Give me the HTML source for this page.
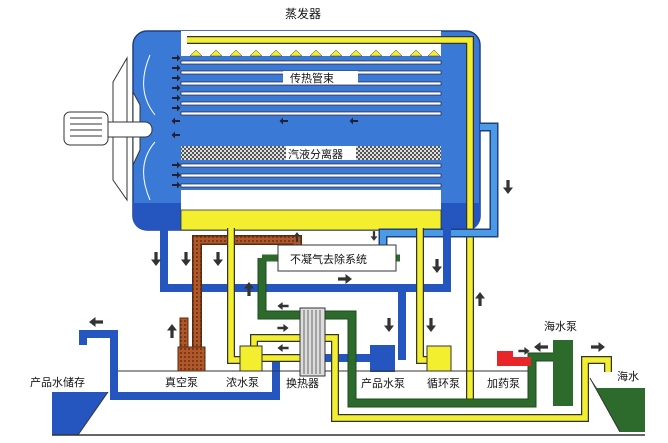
<!DOCTYPE html>
<html><head><meta charset="utf-8"><style>
html,body{margin:0;padding:0;background:#fff;}
svg{display:block;}
text{font-family:"Liberation Sans","Noto Sans CJK SC",sans-serif;font-size:11px;fill:#111;}
</style></head><body>
<svg width="668" height="443" viewBox="0 0 668 443" xmlns="http://www.w3.org/2000/svg">
<defs>
<pattern id="chk" width="4" height="4" patternUnits="userSpaceOnUse"><rect width="4" height="4" fill="#ddd"/><rect width="2" height="2" fill="#555"/><rect x="2" y="2" width="2" height="2" fill="#555"/></pattern>
<pattern id="brn" width="4" height="4" patternUnits="userSpaceOnUse"><rect width="4" height="4" fill="#b0582a"/><rect width="2" height="2" fill="#7a3a18"/></pattern>
<path id="ad" d="M-1.6 -7 H1.6 V0.5 H5 L0 7 L-5 0.5 H-1.6Z" fill="#333"/>
<path id="sa" d="M-4 -1 H1 V-3.5 L4.5 0 L1 3.5 V1 H-4Z" fill="#223"/>
</defs>
<text x="285" y="18" style="font-size:12px">蒸发器</text>
<rect x="133" y="31" width="347" height="199" rx="14" fill="#3a7ad6" stroke="#1f3f80" stroke-width="1.5"/>
<path d="M133 203 H480 V216 Q480 230 466 230 H147 Q133 230 133 216 Z" fill="#2556c0"/>
<rect x="181" y="31" width="260" height="25" fill="#fff"/>
<rect x="181" y="190" width="260" height="20" fill="#fff"/>
<rect x="181" y="210" width="260" height="20" fill="#f4ef2e" stroke="#333" stroke-width="0.8"/>
<path d="M187 40 H470 V400" fill="none" stroke="#333" stroke-width="8"/>
<path d="M187 40 H470 V400" fill="none" stroke="#f4ef2e" stroke-width="5.5"/>
<g fill="#f4ef2e" stroke="#333" stroke-width="0.5">
<path d="M190 56 l6 -6 l6 6z M210 56 l6 -6 l6 6z M230 56 l6 -6 l6 6z M250 56 l6 -6 l6 6z M270 56 l6 -6 l6 6z M290 56 l6 -6 l6 6z M310 56 l6 -6 l6 6z M330 56 l6 -6 l6 6z M350 56 l6 -6 l6 6z M370 56 l6 -6 l6 6z M390 56 l6 -6 l6 6z M410 56 l6 -6 l6 6z M428 56 l6 -6 l6 6z"/>
</g>
<g fill="#fff" stroke="#223" stroke-width="0.7">
<rect x="181" y="61" width="260" height="3"/><rect x="181" y="71" width="260" height="3"/><rect x="181" y="82" width="260" height="3"/><rect x="181" y="92" width="260" height="3"/><rect x="181" y="102" width="260" height="3"/><rect x="181" y="112" width="260" height="3"/>
<rect x="181" y="164" width="260" height="3"/><rect x="181" y="174" width="260" height="3"/><rect x="181" y="184" width="260" height="3"/>
</g>
<rect x="181" y="146" width="260" height="14" fill="url(#chk)"/>
<rect x="283" y="71" width="75" height="13" fill="#fff"/><text x="290" y="82">传热管束</text>
<rect x="286" y="146" width="70" height="14" fill="#fff"/><text x="288" y="158">汽液分离器</text>
<g>
<use href="#sa" x="176" y="58"/><use href="#sa" x="176" y="68"/><use href="#sa" x="176" y="78"/><use href="#sa" x="176" y="88"/><use href="#sa" x="176" y="98"/><use href="#sa" x="176" y="108"/>
<use href="#sa" x="176" y="165"/><use href="#sa" x="176" y="175"/><use href="#sa" x="176" y="185"/>
<use href="#sa" transform="translate(176 121) rotate(180)"/><use href="#sa" transform="translate(176 135) rotate(180)"/>
<use href="#sa" transform="translate(284 121) rotate(180)"/><use href="#sa" transform="translate(354 121) rotate(180)"/>
</g>
<path d="M150 55 Q135 90 155 115 M150 200 Q135 165 155 142" fill="none" stroke="#fff" stroke-width="1"/>
<polygon points="127,58 113,82 113,180 127,200" fill="#fff" stroke="#333"/>
<polygon points="133,92 140,105 140,150 133,165" fill="#fff" stroke="#333"/>
<rect x="100" y="122" width="52" height="15" rx="7" fill="#fff" stroke="#333"/>
<rect x="64" y="112" width="44" height="33" rx="6" fill="#fff" stroke="#333"/>
<path d="M70 118 H102 M70 124 H102 M70 130 H102 M70 136 H102" stroke="#333"/>
<path d="M480 127 H494 V233 H383 V246" fill="none" stroke="#1f3f80" stroke-width="9"/>
<path d="M480 127 H494 V233 H383 V246" fill="none" stroke="#4a9ae6" stroke-width="6"/>
<path d="M164 228 V288 H447 V228 M402 288 V360" fill="none" stroke="#2556c0" stroke-width="8"/>
<rect x="370" y="345" width="25" height="27" fill="#2556c0"/>
<path d="M83 345 V334 H114 V396 H276 V358 H372" fill="none" stroke="#2556c0" stroke-width="8"/>
<polygon points="52,392 108,392 78,435 52,435" fill="#2556c0"/>
<polygon points="597,388 645,388 645,432 620,432 590,378" fill="#2d6b2d"/>
<path d="M118 371 H535" stroke="#333" stroke-width="1"/>
<path d="M52 435 H645" stroke="#333" stroke-width="1.5"/>
<path d="M108 392 L78 435 M590 378 L620 432" stroke="#333"/>
<path d="M197 347 V240 H297 V248" fill="none" stroke="#5a2a10" stroke-width="10"/>
<path d="M197 347 V240 H297 V248" fill="none" stroke="url(#brn)" stroke-width="7"/>
<rect x="178" y="347" width="27" height="24" fill="url(#brn)" stroke="#5a2a10"/>
<rect x="180" y="318" width="8" height="29" fill="url(#brn)" stroke="#5a2a10"/>
<path d="M262 258 V315 H352 V403 H532 V357 H555" fill="none" stroke="#1d4a1d" stroke-width="9"/>
<path d="M262 258 V315 H352 V403 H532 V357 H555" fill="none" stroke="#2d6b2d" stroke-width="7"/>
<path d="M262 258 H400" fill="none" stroke="#2d6b2d" stroke-width="7"/>
<rect x="553" y="340" width="20" height="66" fill="#2d6b2d"/>
<g fill="none" stroke="#333" stroke-width="8">
<path d="M231 228 V360 H250"/><path d="M420 228 V360 H440"/>
<path d="M254 347 V338 H335 V418 H585 V360 H608 V372"/>
<path d="M262 358 H300"/>
</g>
<g fill="none" stroke="#f4ef2e" stroke-width="5.5">
<path d="M231 228 V360 H250"/><path d="M420 228 V360 H440"/>
<path d="M254 347 V338 H335 V418 H585 V360 H608 V372"/>
<path d="M262 358 H300"/>
</g>
<rect x="240" y="346" width="22" height="25" fill="#f4ef2e" stroke="#333"/>
<rect x="427" y="346" width="24" height="25" fill="#f4ef2e" stroke="#333"/>
<rect x="300" y="308" width="25" height="68" fill="#ddd" stroke="#333"/>
<path d="M304 310 V374 M308 310 V374 M312 310 V374 M316 310 V374 M320 310 V374" stroke="#666"/>
<rect x="497" y="351" width="16" height="15" fill="#e8262a"/>
<rect x="513" y="357" width="18" height="9" fill="#e8262a"/>
<rect x="278" y="245" width="118" height="26" fill="#fff" stroke="#333"/>
<text x="290" y="263">不凝气去除系统</text>
<g>
<use href="#ad" x="156" y="259"/><use href="#ad" x="186" y="259"/><use href="#ad" x="218" y="259"/>
<use href="#ad" transform="translate(249 289) rotate(180)"/>
<use href="#ad" transform="translate(297 237) rotate(180) scale(0.7)"/>
<use href="#ad" transform="translate(374 236) scale(0.7)"/>
<use href="#ad" transform="translate(345 279) rotate(-90)"/>
<use href="#ad" x="437" y="266"/>
<use href="#ad" x="508" y="187"/>
<use href="#ad" transform="translate(480 299) rotate(180)"/>
<use href="#ad" x="389" y="325"/><use href="#ad" x="431" y="325"/>
<use href="#ad" transform="translate(172 331) rotate(180)"/>
<use href="#ad" transform="translate(96 322) rotate(90)"/>
<use href="#ad" transform="translate(283 306) rotate(90) scale(0.8)"/>
<use href="#ad" transform="translate(283 328) rotate(-90) scale(0.8)"/>
<use href="#ad" transform="translate(283 348) rotate(90) scale(0.8)"/>
<use href="#ad" transform="translate(524 351) rotate(-90) scale(0.8)"/>
<use href="#ad" transform="translate(541 347) rotate(90)"/>
<use href="#ad" transform="translate(598 347) rotate(-90)"/>
</g>
<text x="30" y="386">产品水储存</text>
<text x="165" y="386">真空泵</text>
<text x="226" y="386">浓水泵</text>
<text x="286" y="387">换热器</text>
<text x="361" y="387">产品水泵</text>
<text x="427" y="387">循环泵</text>
<text x="487" y="387">加药泵</text>
<text x="544" y="330">海水泵</text>
<text x="617" y="380">海水</text>
</svg>
</body></html>
